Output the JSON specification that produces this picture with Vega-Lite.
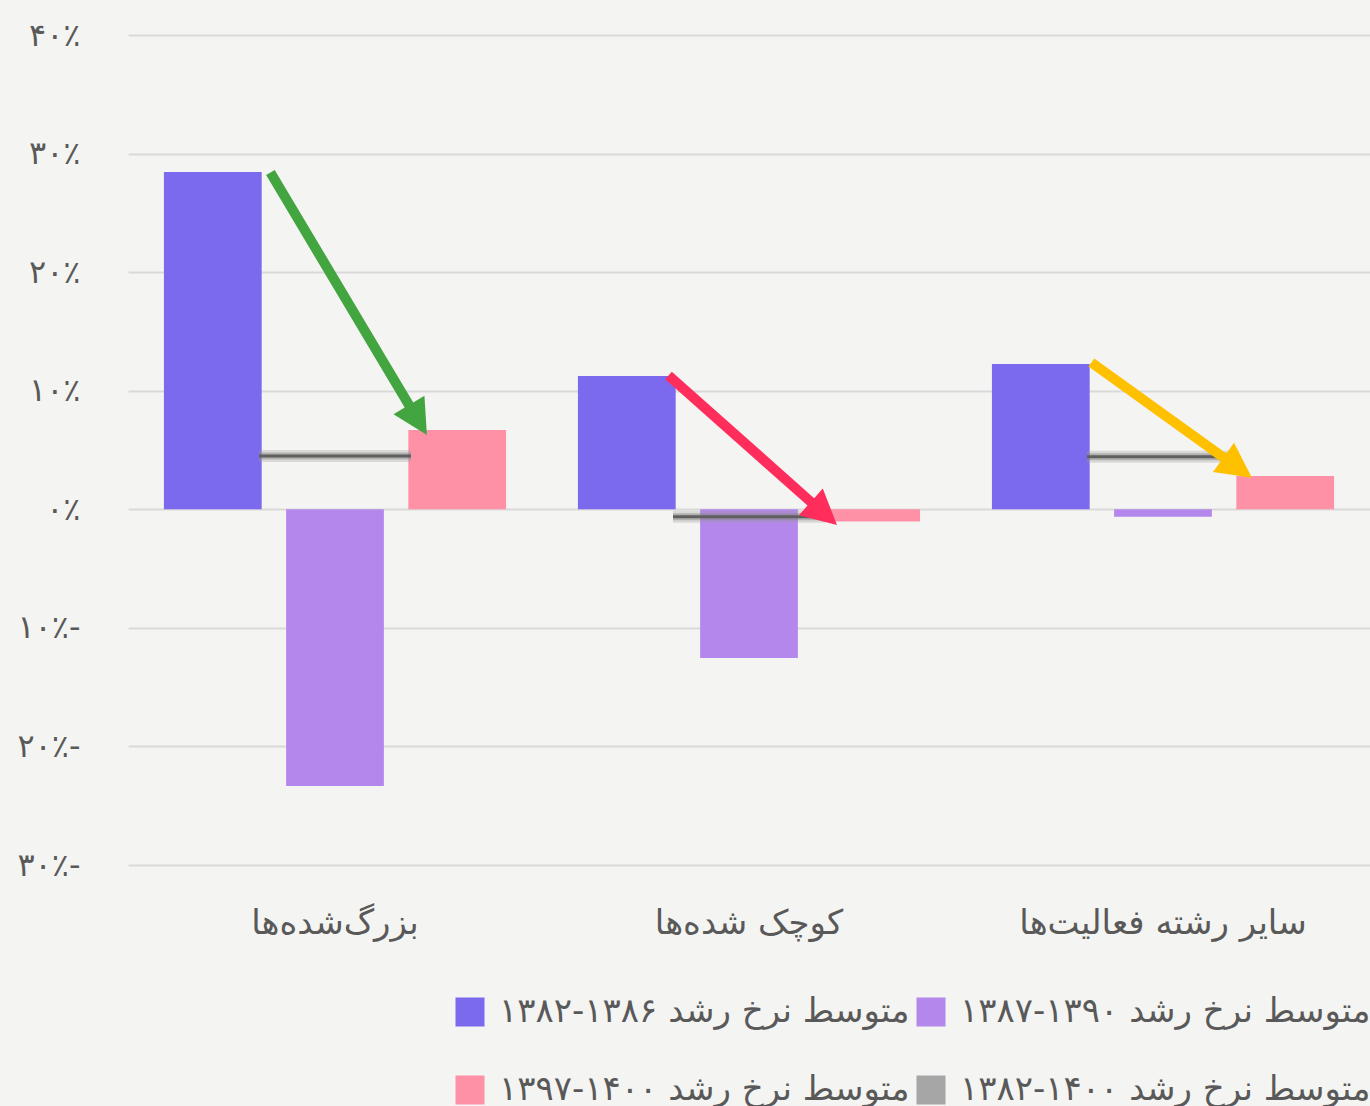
{
  "$schema": "https://vega.github.io/schema/vega-lite/v6.json",
  "width": 1242,
  "height": 830,
  "autosize": {"type": "none"},
  "padding": {"left": 128, "top": 35, "right": 0, "bottom": 241},
  "background": "#f4f4f2",
  "config": {"view": {"stroke": null}, "font": "DejaVu Sans"},
  "datasets": {
    "bars": [
      {"cat": "بزرگ‌شده‌ها", "series": "متوسط نرخ رشد ۱۳۸۲-۱۳۸۶", "value": 0.2845},
      {"cat": "بزرگ‌شده‌ها", "series": "متوسط نرخ رشد ۱۳۸۷-۱۳۹۰", "value": -0.2334},
      {"cat": "بزرگ‌شده‌ها", "series": "متوسط نرخ رشد ۱۳۹۷-۱۴۰۰", "value": 0.0669},
      {"cat": "کوچک شده‌ها", "series": "متوسط نرخ رشد ۱۳۸۲-۱۳۸۶", "value": 0.1124},
      {"cat": "کوچک شده‌ها", "series": "متوسط نرخ رشد ۱۳۸۷-۱۳۹۰", "value": -0.1254},
      {"cat": "کوچک شده‌ها", "series": "متوسط نرخ رشد ۱۳۹۷-۱۴۰۰", "value": -0.0103},
      {"cat": "سایر رشته فعالیت‌ها", "series": "متوسط نرخ رشد ۱۳۸۲-۱۳۸۶", "value": 0.1225},
      {"cat": "سایر رشته فعالیت‌ها", "series": "متوسط نرخ رشد ۱۳۸۷-۱۳۹۰", "value": -0.0062},
      {"cat": "سایر رشته فعالیت‌ها", "series": "متوسط نرخ رشد ۱۳۹۷-۱۴۰۰", "value": 0.0281}
    ],
    "avg": [
      {"cat": "بزرگ‌شده‌ها", "series": "متوسط نرخ رشد ۱۳۸۲-۱۴۰۰", "value": 0.045},
      {"cat": "کوچک شده‌ها", "series": "متوسط نرخ رشد ۱۳۸۲-۱۴۰۰", "value": -0.0062},
      {"cat": "سایر رشته فعالیت‌ها", "series": "متوسط نرخ رشد ۱۳۸۲-۱۴۰۰", "value": 0.0444}
    ],
    "arrows": [
      {"arrow": "green", "cat": "بزرگ‌شده‌ها", "value": 0.284},
      {"arrow": "red", "cat": "کوچک شده‌ها", "value": 0.1128},
      {"arrow": "yellow", "cat": "سایر رشته فعالیت‌ها", "value": 0.1238}
    ]
  },
  "encoding": {
    "x": {
      "field": "cat", "type": "nominal",
      "sort": ["بزرگ‌شده‌ها", "کوچک شده‌ها", "سایر رشته فعالیت‌ها"],
      "scale": {"paddingInner": 0, "paddingOuter": 0},
      "axis": {"title": null, "labelAngle": 0, "domain": false, "ticks": false, "labelFontSize": 34, "labelColor": "#595959", "labelPadding": 41, "labelLimit": 500, "labelFont": "DejaVu Sans"}
    },
    "y": {
      "field": "value", "type": "quantitative",
      "scale": {"domain": [-0.3, 0.4], "nice": false, "zero": false},
      "axis": {
        "title": null, "domain": false, "ticks": false,
        "values": [-0.3, -0.2, -0.1, 0, 0.1, 0.2, 0.3, 0.4],
        "gridColor": "#d9d9d9", "gridWidth": 2,
        "labelFontSize": 32, "labelColor": "#595959", "labelPadding": 48, "labelFont": "DejaVu Sans",
        "labelExpr": "['۰','۱۰','۲۰','۳۰','۴۰'][round(abs(datum.value)*10)] + '٪' + (datum.value < -0.001 ? '-' : '')"
      }
    }
  },
  "layer": [
    {
      "data": {"name": "bars"},
      "mark": {"type": "bar"},
      "encoding": {
        "xOffset": {
          "field": "series", "type": "nominal",
          "sort": ["متوسط نرخ رشد ۱۳۸۲-۱۳۸۶", "متوسط نرخ رشد ۱۳۸۷-۱۳۹۰", "متوسط نرخ رشد ۱۳۹۷-۱۴۰۰"],
          "scale": {"paddingInner": 0.2, "paddingOuter": 0.294}
        },
        "color": {
          "field": "series", "type": "nominal",
          "scale": {
            "domain": ["متوسط نرخ رشد ۱۳۸۲-۱۳۸۶", "متوسط نرخ رشد ۱۳۹۷-۱۴۰۰", "متوسط نرخ رشد ۱۳۸۷-۱۳۹۰", "متوسط نرخ رشد ۱۳۸۲-۱۴۰۰"],
            "range": ["#7b6aee", "#ff91a7", "#b487ec", "#a6a6a6"]
          },
          "legend": {
            "title": null, "orient": "none", "legendX": 325, "legendY": 960,
            "columns": 2, "padding": 0, "columnPadding": 4, "rowPadding": 44,
            "symbolType": "square", "symbolSize": 841, "symbolStrokeWidth": 0,
            "labelFontSize": 34, "labelColor": "#595959", "labelFont": "DejaVu Sans", "labelLimit": 600, "labelOffset": 12,
            "labelExpr": "'\u2067' + replace(datum.label, 'متوسط نرخ رشد ', 'متوسط نرخ رشد \u2066') + '\u2069\u2069'"
          }
        }
      }
    },
    {
      "data": {"name": "avg"},
      "mark": {"type": "tick", "size": 152, "thickness": 12, "color": "#9a9a9a", "opacity": 0.3}
    },
    {
      "data": {"name": "avg"},
      "mark": {"type": "tick", "size": 152, "thickness": 7, "color": "#808080", "opacity": 0.45}
    },
    {
      "data": {"name": "avg"},
      "mark": {"type": "tick", "size": 152, "thickness": 3, "color": "#5f5f5f", "opacity": 1}
    },
    {
      "data": {"name": "arrows"},
      "transform": [{"filter": "datum.arrow === 'green'"}],
      "mark": {"type": "point", "shape": "M-0.5,0L-0.5,-27.06L-1.8,-27.06L0,-30.56L1.8,-27.06L0.5,-27.06L0.5,0Z", "size": 400, "filled": true, "opacity": 1, "strokeWidth": 0, "color": "#43a540", "angle": 149.2},
      "encoding": {
        "x": {"field": "cat", "type": "nominal", "sort": ["بزرگ‌شده‌ها", "کوچک شده‌ها", "سایر رشته فعالیت‌ها"], "bandPosition": 0.344}
      }
    },
    {
      "data": {"name": "arrows"},
      "transform": [{"filter": "datum.arrow === 'red'"}],
      "mark": {"type": "point", "shape": "M-0.5,0L-0.5,-19.03L-1.8,-19.03L0,-22.53L1.8,-19.03L0.5,-19.03L0.5,0Z", "size": 400, "filled": true, "opacity": 1, "strokeWidth": 0, "color": "#ff2d5c", "angle": 131.6},
      "encoding": {
        "x": {"field": "cat", "type": "nominal", "sort": ["بزرگ‌شده‌ها", "کوچک شده‌ها", "سایر رشته فعالیت‌ها"], "bandPosition": 0.3056}
      }
    },
    {
      "data": {"name": "arrows"},
      "transform": [{"filter": "datum.arrow === 'yellow'"}],
      "mark": {"type": "point", "shape": "M-0.5,0L-0.5,-16.27L-1.8,-16.27L0,-19.77L1.8,-16.27L0.5,-16.27L0.5,0Z", "size": 400, "filled": true, "opacity": 1, "strokeWidth": 0, "color": "#ffc000", "angle": 125.7},
      "encoding": {
        "x": {"field": "cat", "type": "nominal", "sort": ["بزرگ‌شده‌ها", "کوچک شده‌ها", "سایر رشته فعالیت‌ها"], "bandPosition": 0.327}
      }
    }
  ]
}
